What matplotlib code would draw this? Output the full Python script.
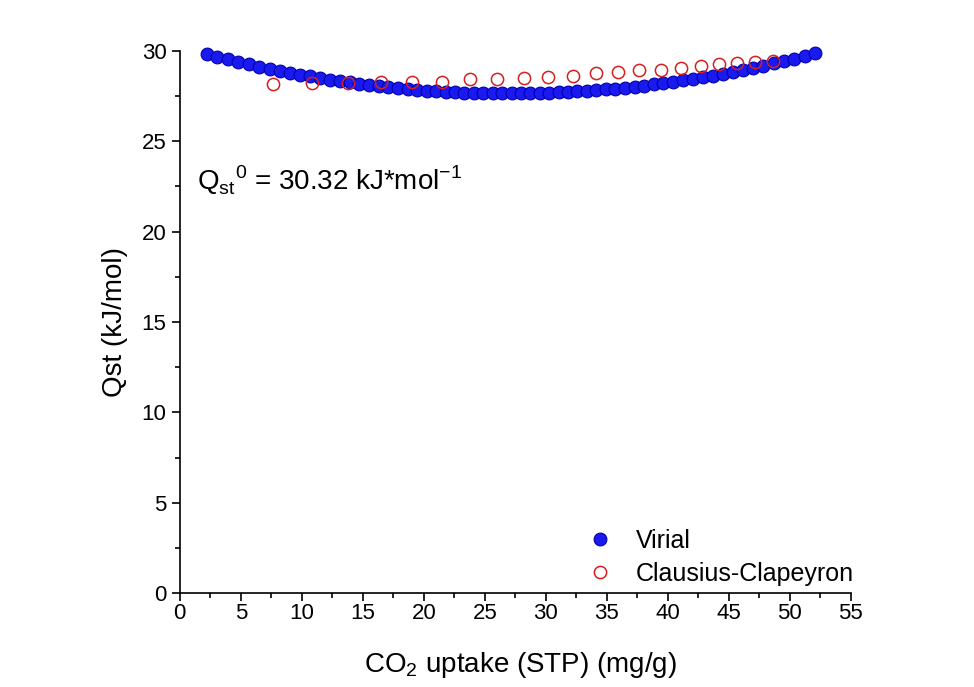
import matplotlib.pyplot as plt
from matplotlib.ticker import MultipleLocator

plt.rcParams["font.family"] = ["Liberation Sans", "DejaVu Sans"]
plt.rcParams["mathtext.fontset"] = "custom"
plt.rcParams["mathtext.rm"] = "Liberation Sans"

# Virial fit points
virial_x = [2.20, 3.08, 3.95, 4.81, 5.67, 6.52, 7.36, 8.20, 9.03, 9.86,
            10.68, 11.50, 12.31, 13.12, 13.92, 14.72, 15.52, 16.31, 17.10, 17.89,
            18.67, 19.45, 20.23, 21.01, 21.79, 22.56, 23.33, 24.11, 24.88, 25.65,
            26.42, 27.19, 27.96, 28.73, 29.50, 30.27, 31.04, 31.81, 32.58, 33.36,
            34.14, 34.92, 35.70, 36.48, 37.27, 38.06, 38.85, 39.64, 40.44, 41.24,
            42.05, 42.86, 43.67, 44.49, 45.31, 46.14, 46.97, 47.81, 48.66, 49.51,
            50.37, 51.24, 52.08]
virial_y = [29.83, 29.68, 29.53, 29.39, 29.26, 29.13, 29.02, 28.90, 28.79, 28.69,
            28.59, 28.50, 28.41, 28.33, 28.26, 28.18, 28.12, 28.05, 28.00, 27.94,
            27.90, 27.85, 27.81, 27.78, 27.75, 27.72, 27.70, 27.68, 27.67, 27.66,
            27.65, 27.65, 27.65, 27.66, 27.67, 27.69, 27.71, 27.73, 27.76, 27.79,
            27.83, 27.87, 27.92, 27.97, 28.02, 28.08, 28.15, 28.22, 28.29, 28.37,
            28.45, 28.54, 28.63, 28.73, 28.84, 28.95, 29.06, 29.18, 29.31, 29.44,
            29.58, 29.73, 29.88]

# Clausius-Clapeyron points
cc_x = [7.66, 10.81, 13.81, 16.49, 19.00, 21.47, 23.79, 26.02, 28.21, 30.20,
        32.20, 34.09, 35.94, 37.64, 39.42, 41.06, 42.70, 44.22, 45.70, 47.17, 48.60]
cc_y = [28.15, 28.24, 28.24, 28.28, 28.26, 28.30, 28.43, 28.44, 28.52, 28.57,
        28.63, 28.76, 28.85, 28.93, 28.94, 29.07, 29.18, 29.26, 29.31, 29.40, 29.46]

fig = plt.figure(figsize=(9.74, 6.87), dpi=100)
ax = fig.add_axes([0.1846, 0.1368, 0.689, 0.789])

ax.plot(virial_x, virial_y, "o", color="#1a1aee", markeredgecolor="#0000b0",
        markeredgewidth=0.8, markersize=9.2, label="Virial", clip_on=False)
ax.plot(cc_x, cc_y, "o", markerfacecolor="none", markeredgecolor="#d42020",
        markeredgewidth=1.1, markersize=8.8, label="Clausius-Clapeyron", clip_on=False)

ax.set_xlim(0, 55)
ax.set_ylim(0, 30)
ax.xaxis.set_major_locator(MultipleLocator(5))
ax.xaxis.set_minor_locator(MultipleLocator(2.5))
ax.yaxis.set_major_locator(MultipleLocator(5))
ax.yaxis.set_minor_locator(MultipleLocator(2.5))

ax.spines["top"].set_visible(False)
ax.spines["right"].set_visible(False)
for s in ["left", "bottom"]:
    ax.spines[s].set_linewidth(1.2)
ax.tick_params(which="major", direction="out", length=6, width=1.2, labelsize=16)
ax.tick_params(which="minor", direction="out", length=3.5, width=1.2)
ax.tick_params(axis="x", which="major", pad=1.5)

ax.set_xlabel(r"CO$_{\mathregular{2}}$ uptake (STP) (mg/g)", fontsize=20)
ax.set_ylabel("Qst (kJ/mol)", fontsize=20)
ax.xaxis.set_label_coords(0.508, -0.105)
ax.yaxis.set_label_coords(-0.077, 0.5)

ax.text(1.4, 22.85,
        r"Q$_{\mathregular{st}}$$^{\mathregular{0}}$ = 30.32 kJ*mol$^{\mathregular{-1}}$",
        fontsize=20, ha="left", va="center")

ax.legend(loc="center left", bbox_to_anchor=(0.607, 0.066), frameon=False,
          fontsize=18, handlelength=1.0, handletextpad=0.95, labelspacing=0.35,
          borderpad=0, borderaxespad=0)

fig.savefig("out.png", dpi=100)
